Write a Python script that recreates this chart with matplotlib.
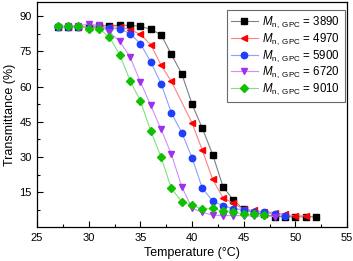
import matplotlib
matplotlib.use('Agg')
import matplotlib.pyplot as plt
from matplotlib.ticker import MultipleLocator, FixedLocator

plt.rcParams['font.family'] = ['Liberation Sans', 'DejaVu Sans']
plt.rcParams['mathtext.fontset'] = 'custom'
plt.rcParams['mathtext.rm'] = 'Liberation Sans'
plt.rcParams['mathtext.it'] = 'Liberation Sans:italic'

# data
t_3890 = list(range(27, 53))
y_3890 = [85.5, 85.5, 85.5, 85.5, 85.8, 86.0, 86.1, 86.1, 85.7, 84.4, 82.1, 73.7, 65.5,
          52.5, 42.2, 31.0, 17.3, 11.6, 7.7, 6.3, 5.5, 4.6, 4.5, 4.5, 4.5, 4.5]

t_4970 = list(range(27, 39)) + list(range(40, 52))
y_4970 = [85.5, 85.5, 85.5, 85.5, 85.3, 85.3, 85.5, 84.3, 82.2, 77.9, 69.1, 62.2,
          44.5, 32.8, 20.4, 12.6, 10.2, 7.7, 7.2, 6.6, 6.3, 5.5, 4.9, 4.9]

t_5900 = list(range(27, 50))
y_5900 = [85.3, 85.3, 85.2, 85.1, 85.0, 84.8, 84.7, 82.5, 78.3, 70.5, 61.3, 48.8, 40.4,
          29.7, 16.6, 11.3, 9.1, 8.0, 7.5, 6.7, 6.4, 5.5, 5.0]

t_6720 = list(range(27, 49))
y_6720 = [85.5, 85.8, 86.0, 86.6, 86.1, 83.2, 79.3, 72.6, 62.0, 52.0, 41.8, 31.2, 17.4,
          8.1, 6.4, 5.2, 5.0, 5.0, 5.0, 4.8, 4.8, 4.6]

t_9010 = list(range(27, 48))
y_9010 = [85.7, 85.7, 85.7, 84.7, 84.7, 81.1, 73.6, 62.5, 53.9, 41.1, 30.0, 16.6, 10.9,
          9.5, 7.7, 8.1, 6.9, 6.7, 5.5, 5.5, 5.4]

labels = ['3890', '4970', '5900', '6720', '9010']

fig = plt.figure(figsize=(3.53, 2.61), dpi=100)
ax = fig.add_axes([0.105, 0.129, 0.878, 0.863])

series = [
    (t_3890, y_3890, 's', 'black', '#808080'),
    (t_4970, y_4970, '<', '#ff0000', '#ff8080'),
    (t_5900, y_5900, 'o', '#1f3fff', '#8fa0ff'),
    (t_6720, y_6720, 'v', '#a030f0', '#d090f8'),
    (t_9010, y_9010, 'D', '#10c000', '#80e080'),
]
for (t, y, m, c, lc), lab in zip(series, labels):
    ms = 3.8 if m == 'D' else 4.6
    ax.plot(t, y, color=lc, lw=0.8, marker=m, ms=ms, mfc=c, mec=c,
            label=r'$M_{\mathrm{n,\ GPC}}$ = ' + lab)

ax.set_xlim(25, 55)
ax.set_ylim(0, 96)
ax.xaxis.set_major_locator(MultipleLocator(5))
ax.xaxis.set_minor_locator(MultipleLocator(2.5))
ax.yaxis.set_major_locator(FixedLocator([15, 30, 45, 60, 75, 90]))
ax.yaxis.set_minor_locator(FixedLocator([7.5, 22.5, 37.5, 52.5, 67.5, 82.5]))
ax.tick_params(which='both', direction='in', top=False, right=False, labelsize=8)
ax.tick_params(which='major', length=4, width=0.8, pad=4)
ax.tick_params(which='minor', length=2.5, width=0.8)
for s in ax.spines.values():
    s.set_linewidth(0.9)

ax.set_xlabel('Temperature (°C)', fontsize=9, labelpad=3)
ax.set_ylabel('Transmittance (%)', fontsize=9, labelpad=2)

leg = ax.legend(loc='upper right', bbox_to_anchor=(0.993, 0.965), fontsize=8.3,
                frameon=True, fancybox=False, edgecolor='#444444',
                handlelength=2.3, handletextpad=0.4, borderpad=0.4,
                labelspacing=0.1, borderaxespad=0.0)
leg.get_frame().set_linewidth(0.8)

fig.savefig('out.png', dpi=100)
